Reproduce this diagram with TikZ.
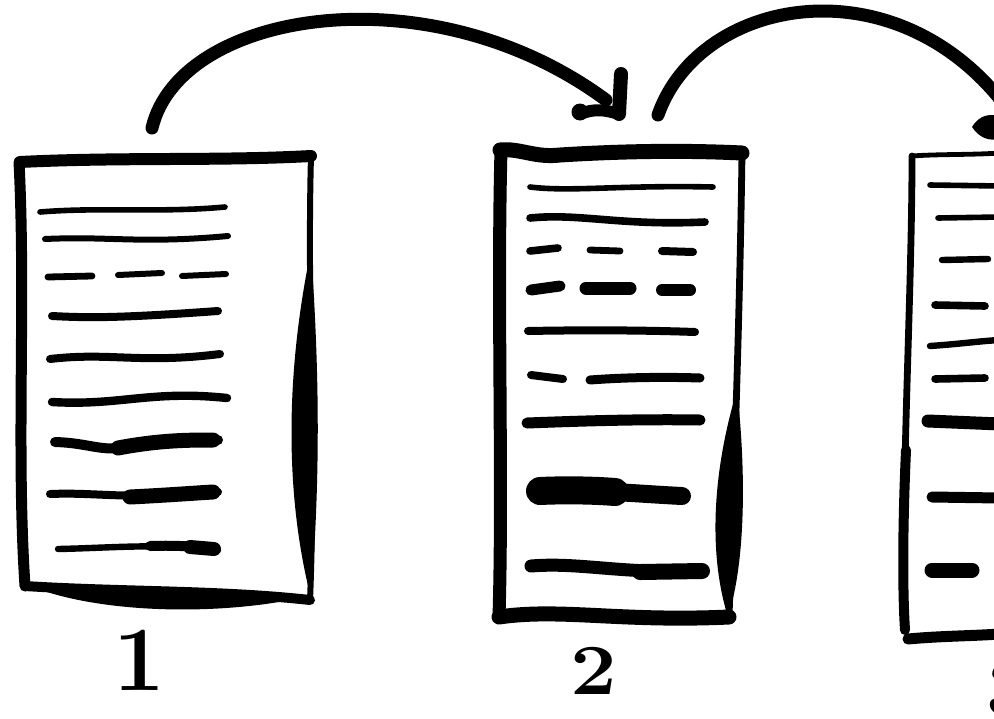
\documentclass[tikz,border=0pt]{standalone}
\begin{document}
\begin{tikzpicture}[x=0.5pt,y=-0.5pt,
  ink/.style={line cap=round,line join=round,draw=black},
  lbl/.style={font=\bfseries, inner sep=0pt, anchor=center}]
\useasboundingbox (0,0) rectangle (994,718);
\clip (0,0) rectangle (994,718);

% ---------- document 1 ----------
\draw[ink,line width=6pt] (20,162) .. controls (120,157) and (220,161) .. (311,156);
\draw[ink,line width=5.5pt] (19,162) .. controls (26,300) and (16,450) .. (25,586);
\draw[ink,line width=3pt] (311,156) .. controls (307,300) and (316,460) .. (310,600);
\fill (311,250) .. controls (284,380) and (286,500) .. (311,598) .. controls (320,480) and (320,380) .. (311,250) -- cycle;
\draw[ink,line width=5pt] (25,586) .. controls (120,592) and (220,590) .. (310,600);
\fill (30,586) .. controls (100,590) and (200,584) .. (305,597) .. controls (220,616) and (100,614) .. (30,586) -- cycle;

\draw[ink,line width=2.8pt] (40,212) .. controls (100,207) and (160,213) .. (225,207);
\draw[ink,line width=3pt] (45,239) .. controls (110,236) and (140,244) .. (228,236);
\draw[ink,line width=3.4pt] (48,277) -- (92,276);
\draw[ink,line width=3pt] (118,275) -- (162,273);
\draw[ink,line width=3pt] (182,276) -- (226,274);
\draw[ink,line width=4pt] (52,316) .. controls (90,318) and (120,318) .. (218,311);
\draw[ink,line width=4pt] (50,359) .. controls (110,352) and (140,364) .. (220,354);
\draw[ink,line width=4.2pt] (52,402) .. controls (120,406) and (150,390) .. (227,398);
\draw[ink,line width=5pt] (55,442) .. controls (90,443) and (100,452) .. (130,447) .. controls (160,440) and (190,440) .. (218,440);
\draw[ink,line width=7.5pt] (118,448) .. controls (160,440) and (190,440) .. (213,440);
\draw[ink,line width=4pt] (50,494) .. controls (100,492) and (120,500) .. (218,492);
\draw[ink,line width=7.5pt] (130,497) .. controls (170,495) and (195,493) .. (213,492);
\draw[ink,line width=3.2pt] (58,549) .. controls (110,548) and (160,543) .. (218,550);
\draw[ink,line width=5pt] (150,546) .. controls (180,545) and (200,547) .. (214,549);
\draw[ink,line width=7pt] (190,547) -- (214,549);

\node[lbl, font=\fontsize{46}{46}\selectfont\bfseries] (n1) at (139,660) {1};

% ---------- document 2 ----------
\draw[ink,line width=7.5pt] (500,150) .. controls (520,148) and (535,158) .. (560,155) .. controls (640,150) and (700,151) .. (742,153);
\draw[ink,line width=6.5pt] (501,150) .. controls (497,300) and (503,480) .. (499,617);
\draw[ink,line width=3.4pt] (742,153) .. controls (740,300) and (735,450) .. (729,617);
\fill (737,390) .. controls (710,480) and (710,560) .. (728,617) .. controls (746,560) and (746,470) .. (737,390) -- cycle;
\draw[ink,line width=7.5pt] (499,617) .. controls (560,608) and (620,622) .. (729,617);

\draw[ink,line width=2.8pt] (530,187) .. controls (570,192) and (620,185) .. (713,187);
\draw[ink,line width=3.8pt] (530,218) .. controls (580,213) and (620,226) .. (705,222);
\draw[ink,line width=3.8pt] (530,251) -- (558,248);
\draw[ink,line width=3.4pt] (590,250) -- (620,251);
\draw[ink,line width=4pt] (662,251) -- (693,252);
\draw[ink,line width=5.5pt] (531,290) -- (560,286);
\draw[ink,line width=6.5pt] (586,288) -- (630,288);
\draw[ink,line width=6pt] (662,290) -- (690,290);
\draw[ink,line width=4pt] (528,331) .. controls (580,330) and (640,330) .. (695,332);
\draw[ink,line width=4pt] (531,375) -- (563,379);
\draw[ink,line width=4.5pt] (590,380) .. controls (630,377) and (670,377) .. (700,378);
\draw[ink,line width=5.5pt] (527,423) .. controls (580,421) and (640,419) .. (700,420);
\draw[ink,line width=9pt] (538,491) .. controls (590,489) and (640,494) .. (682,496);
\draw[ink,line width=14pt] (540,491) .. controls (560,490) and (590,490) .. (615,492);
\draw[ink,line width=6.5pt] (531,566) .. controls (580,562) and (620,574) .. (702,571);
\draw[ink,line width=8pt] (640,572) -- (702,571);

\node[lbl, font=\fontsize{36}{36}\selectfont\bfseries, xscale=1.15] (n2) at (594,671) {2};

% ---------- document 3 (cut off) ----------
\draw[ink,line width=2.4pt] (912,156) .. controls (940,154) and (970,155) .. (1000,153);
\draw[ink,line width=3.4pt] (912,156) .. controls (912,300) and (900,500) .. (905,630);
\draw[ink,line width=5pt] (906,450) .. controls (902,540) and (903,600) .. (905,630);
\draw[ink,line width=5.5pt] (908,639) .. controls (940,636) and (970,636) .. (1000,634);

\draw[ink,line width=2.8pt] (930,185) -- (1000,186);
\draw[ink,line width=2.8pt] (938,218) -- (1000,217);
\draw[ink,line width=3.2pt] (942,260) -- (988,259);
\draw[ink,line width=3.8pt] (935,305) -- (985,306);
\draw[ink,line width=3.2pt] (930,346) .. controls (960,344) and (980,341) .. (1000,340);
\draw[ink,line width=3.8pt] (935,379) -- (985,378);
\draw[ink,line width=6.5pt] (928,421) -- (1000,424);
\draw[ink,line width=5.5pt] (932,497) -- (1000,498);
\draw[ink,line width=7.5pt] (932,570) -- (972,570);

\node[lbl, font=\fontsize{40}{40}\selectfont\bfseries, anchor=west] (n3) at (986,690) {3};

% ---------- arrows ----------
\coordinate (a1s) at (152,128);
\coordinate (a1e) at (606,100);
\coordinate (a2s) at (658,115);
\coordinate (a2e) at (1010,112);
\draw[ink,line width=6.5pt] (a1s) .. controls (180,10) and (430,-30) .. (a1e);
\draw[ink,line width=7pt] (621,74) -- (619,114);
\draw[ink,line width=6pt] (580,114) .. controls (595,108) and (606,110) .. (619,114);
\fill (580,112) circle (8.5);
\draw[ink,line width=6.5pt] (a2s) .. controls (700,-5) and (900,-40) .. (a2e);
\fill (972,127) .. controls (980,114) and (990,114) .. (1000,116) -- (1000,139) .. controls (990,141) and (980,139) .. (972,127) -- cycle;
\end{tikzpicture}
\end{document}
